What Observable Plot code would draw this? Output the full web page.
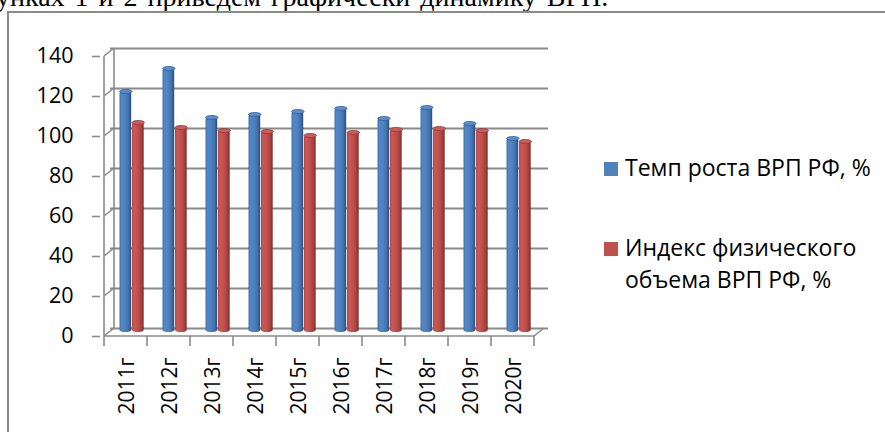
<!DOCTYPE html>
<html>
<head>
<meta charset="utf-8">
<script src="https://cdn.jsdelivr.net/npm/d3@7"></script>
<script src="https://cdn.jsdelivr.net/npm/@observablehq/plot@0.6"></script>
<style>
  body { margin: 0; background: #fff; }
  #page { position: relative; width: 885px; height: 432px; overflow: hidden; background: #fff; }
  #intro { position: absolute; left: -4px; top: -17.5px; font-family: "Liberation Serif", serif; font-size: 28px; word-spacing: 3px; line-height: 1; white-space: nowrap; color: #000; }
  #border { position: absolute; left: 7px; top: 11px; width: 1000px; height: 1000px; border-left: 2px solid #8a8a8a; border-top: 2px solid #8a8a8a; }
  #chart { position: absolute; left: 0; top: 0; }
  .leg { position: absolute; left: 604px; font-family: "Open Sans", sans-serif; font-size: 23px; line-height: 31.6px; color: #000; white-space: nowrap; }
  .sw { position: absolute; left: 0; width: 14px; height: 14px; }
  .lt { position: absolute; left: 21px; top: 0; }
</style>
</head>
<body>
<div id="page">
  <div id="intro">унках 1 и 2 приведем графически динамику ВРП.</div>
  <div id="border"></div>
  <div id="chart"></div>
  <div id="legend"></div>
</div>
<script>
// ---- data ----
const years = ["2011г", "2012г", "2013г", "2014г", "2015г", "2016г", "2017г", "2018г", "2019г", "2020г"];
const growthRate = [120.5, 132, 107.5, 109, 110.5, 112, 107, 112.5, 104.5, 97];
const volumeIndex = [105, 102.5, 101, 100.5, 98.5, 100, 101.5, 102, 101, 95.5];
const yTicks = [0, 20, 40, 60, 80, 100, 120, 140];
const seriesNames = ["Темп роста ВРП РФ, %", "Индекс физического\nобъема ВРП РФ, %"];
const seriesColors = ["#4f81bd", "#c0504d"];

const blueData = years.map((y, i) => ({year: y, value: growthRate[i]}));
const redData = years.map((y, i) => ({year: y, value: volumeIndex[i]}));

const DEPTH_X = 10, DEPTH_Y = 8;
const GRID = "#8a8a8a";

// ellipse symbol for cylinder caps
const capSymbol = {
  draw(ctx) {
    const rx = 6.2, ry = 2, k = 0.5523;
    ctx.moveTo(rx, 0);
    ctx.bezierCurveTo(rx, ry * k, rx * k, ry, 0, ry);
    ctx.bezierCurveTo(-rx * k, ry, -rx, ry * k, -rx, 0);
    ctx.bezierCurveTo(-rx, -ry * k, -rx * k, -ry, 0, -ry);
    ctx.bezierCurveTo(rx * k, -ry, rx, -ry * k, rx, 0);
    ctx.closePath();
  }
};

// 3D frame: walls, floor, tick marks, built from the scales
function frame3d(index, scales) {
  const x = scales.x, y = scales.y;
  const dom = x.domain(), bw = x.bandwidth();
  const x0 = x(dom[0]), x1 = x(dom[dom.length - 1]) + bw;
  const y0 = y(yTicks[0]), yTop = y(yTicks[yTicks.length - 1]);
  const g = d3.create("svg:g").attr("stroke", GRID).attr("stroke-width", 1.6).attr("fill", "none");
  const line = (a, b, c, d) => g.append("line").attr("x1", a).attr("y1", b).attr("x2", c).attr("y2", d);
  line(x0 + DEPTH_X, y0 - DEPTH_Y, x0 + DEPTH_X, yTop - DEPTH_Y);
  yTicks.forEach(t => line(x0, y(t), x0 + DEPTH_X, y(t) - DEPTH_Y));
  line(x0, y0, x0, yTop);
  line(x0, y0, x1, y0);
  line(x1, y0, x1 + DEPTH_X, y0 - DEPTH_Y);
  dom.forEach(d => line(x(d), y0, x(d), y0 + 10));
  line(x1, y0, x1, y0 + 10);
  return g.node();
}

const plot = Plot.plot({
  width: 600,
  height: 432,
  marginLeft: 100,
  marginRight: 62,
  marginTop: 56,
  marginBottom: 96,
  style: {background: "transparent", color: "#000", fontFamily: "Open Sans, sans-serif", overflow: "visible"},
  x: {domain: years, padding: 0, axis: null},
  y: {domain: [0, 140], axis: null},
  marks: [
    Plot.ruleY(yTicks, {dx: DEPTH_X, dy: -DEPTH_Y, stroke: GRID, strokeWidth: 1.8}),
    frame3d,
    Plot.axisY(yTicks, {tickSize: 8, tickPadding: 19, fontSize: 21.5, stroke: GRID, strokeWidth: 1.6, label: null}),
    Plot.axisX({tickSize: 0, tickPadding: 21, tickRotate: -90, fontSize: 21, dx: 1, label: null}),
    Plot.barY(blueData, {x: "year", y: "value", insetLeft: 15.5, insetRight: 15.8, dy: -4, rx: 6, ry: 2, fill: "url(#gBlue)"}),
    Plot.barY(redData, {x: "year", y: "value", insetLeft: 28, insetRight: 3.3, dy: -4, rx: 6, ry: 2, fill: "url(#gRed)"}),
    Plot.dot(blueData, {x: "year", y: "value", dx: -0.2, dy: -4, symbol: capSymbol, r: 5, fill: "#5a8dcc", stroke: "#2f5a90", strokeWidth: 0.8}),
    Plot.dot(redData, {x: "year", y: "value", dx: 12.3, dy: -4, symbol: capSymbol, r: 5, fill: "#cb5e5b", stroke: "#8c3836", strokeWidth: 0.8})
  ]
});

// cylinder gradients
const defs = d3.select(plot).insert("svg:defs", ":first-child");
function grad(id, stops) {
  const lg = defs.append("linearGradient").attr("id", id).attr("x1", "0").attr("x2", "1").attr("y1", "0").attr("y2", "0");
  stops.forEach(([o, c]) => lg.append("stop").attr("offset", o).attr("stop-color", c));
}
grad("gBlue", [[0, "#416fab"], [0.18, "#5187c8"], [0.5, "#4f81bd"], [0.78, "#416fa9"], [1, "#2a4a78"]]);
grad("gRed", [[0, "#b04845"], [0.18, "#cd5854"], [0.5, "#c0504d"], [0.78, "#a64340"], [1, "#7a2e2c"]]);

document.getElementById("chart").appendChild(plot);

// legend
const legend = document.getElementById("legend");
const legTops = [152, 232];
const swTops = [10, 10];
seriesNames.forEach((name, i) => {
  const item = document.createElement("div");
  item.className = "leg";
  item.style.top = legTops[i] + "px";
  const sw = document.createElement("div");
  sw.className = "sw";
  sw.style.top = swTops[i] + "px";
  sw.style.background = seriesColors[i];
  const tx = document.createElement("div");
  tx.className = "lt";
  tx.innerHTML = name.split("\n").join("<br>");
  item.appendChild(sw);
  item.appendChild(tx);
  legend.appendChild(item);
});
</script>
</body>
</html>
